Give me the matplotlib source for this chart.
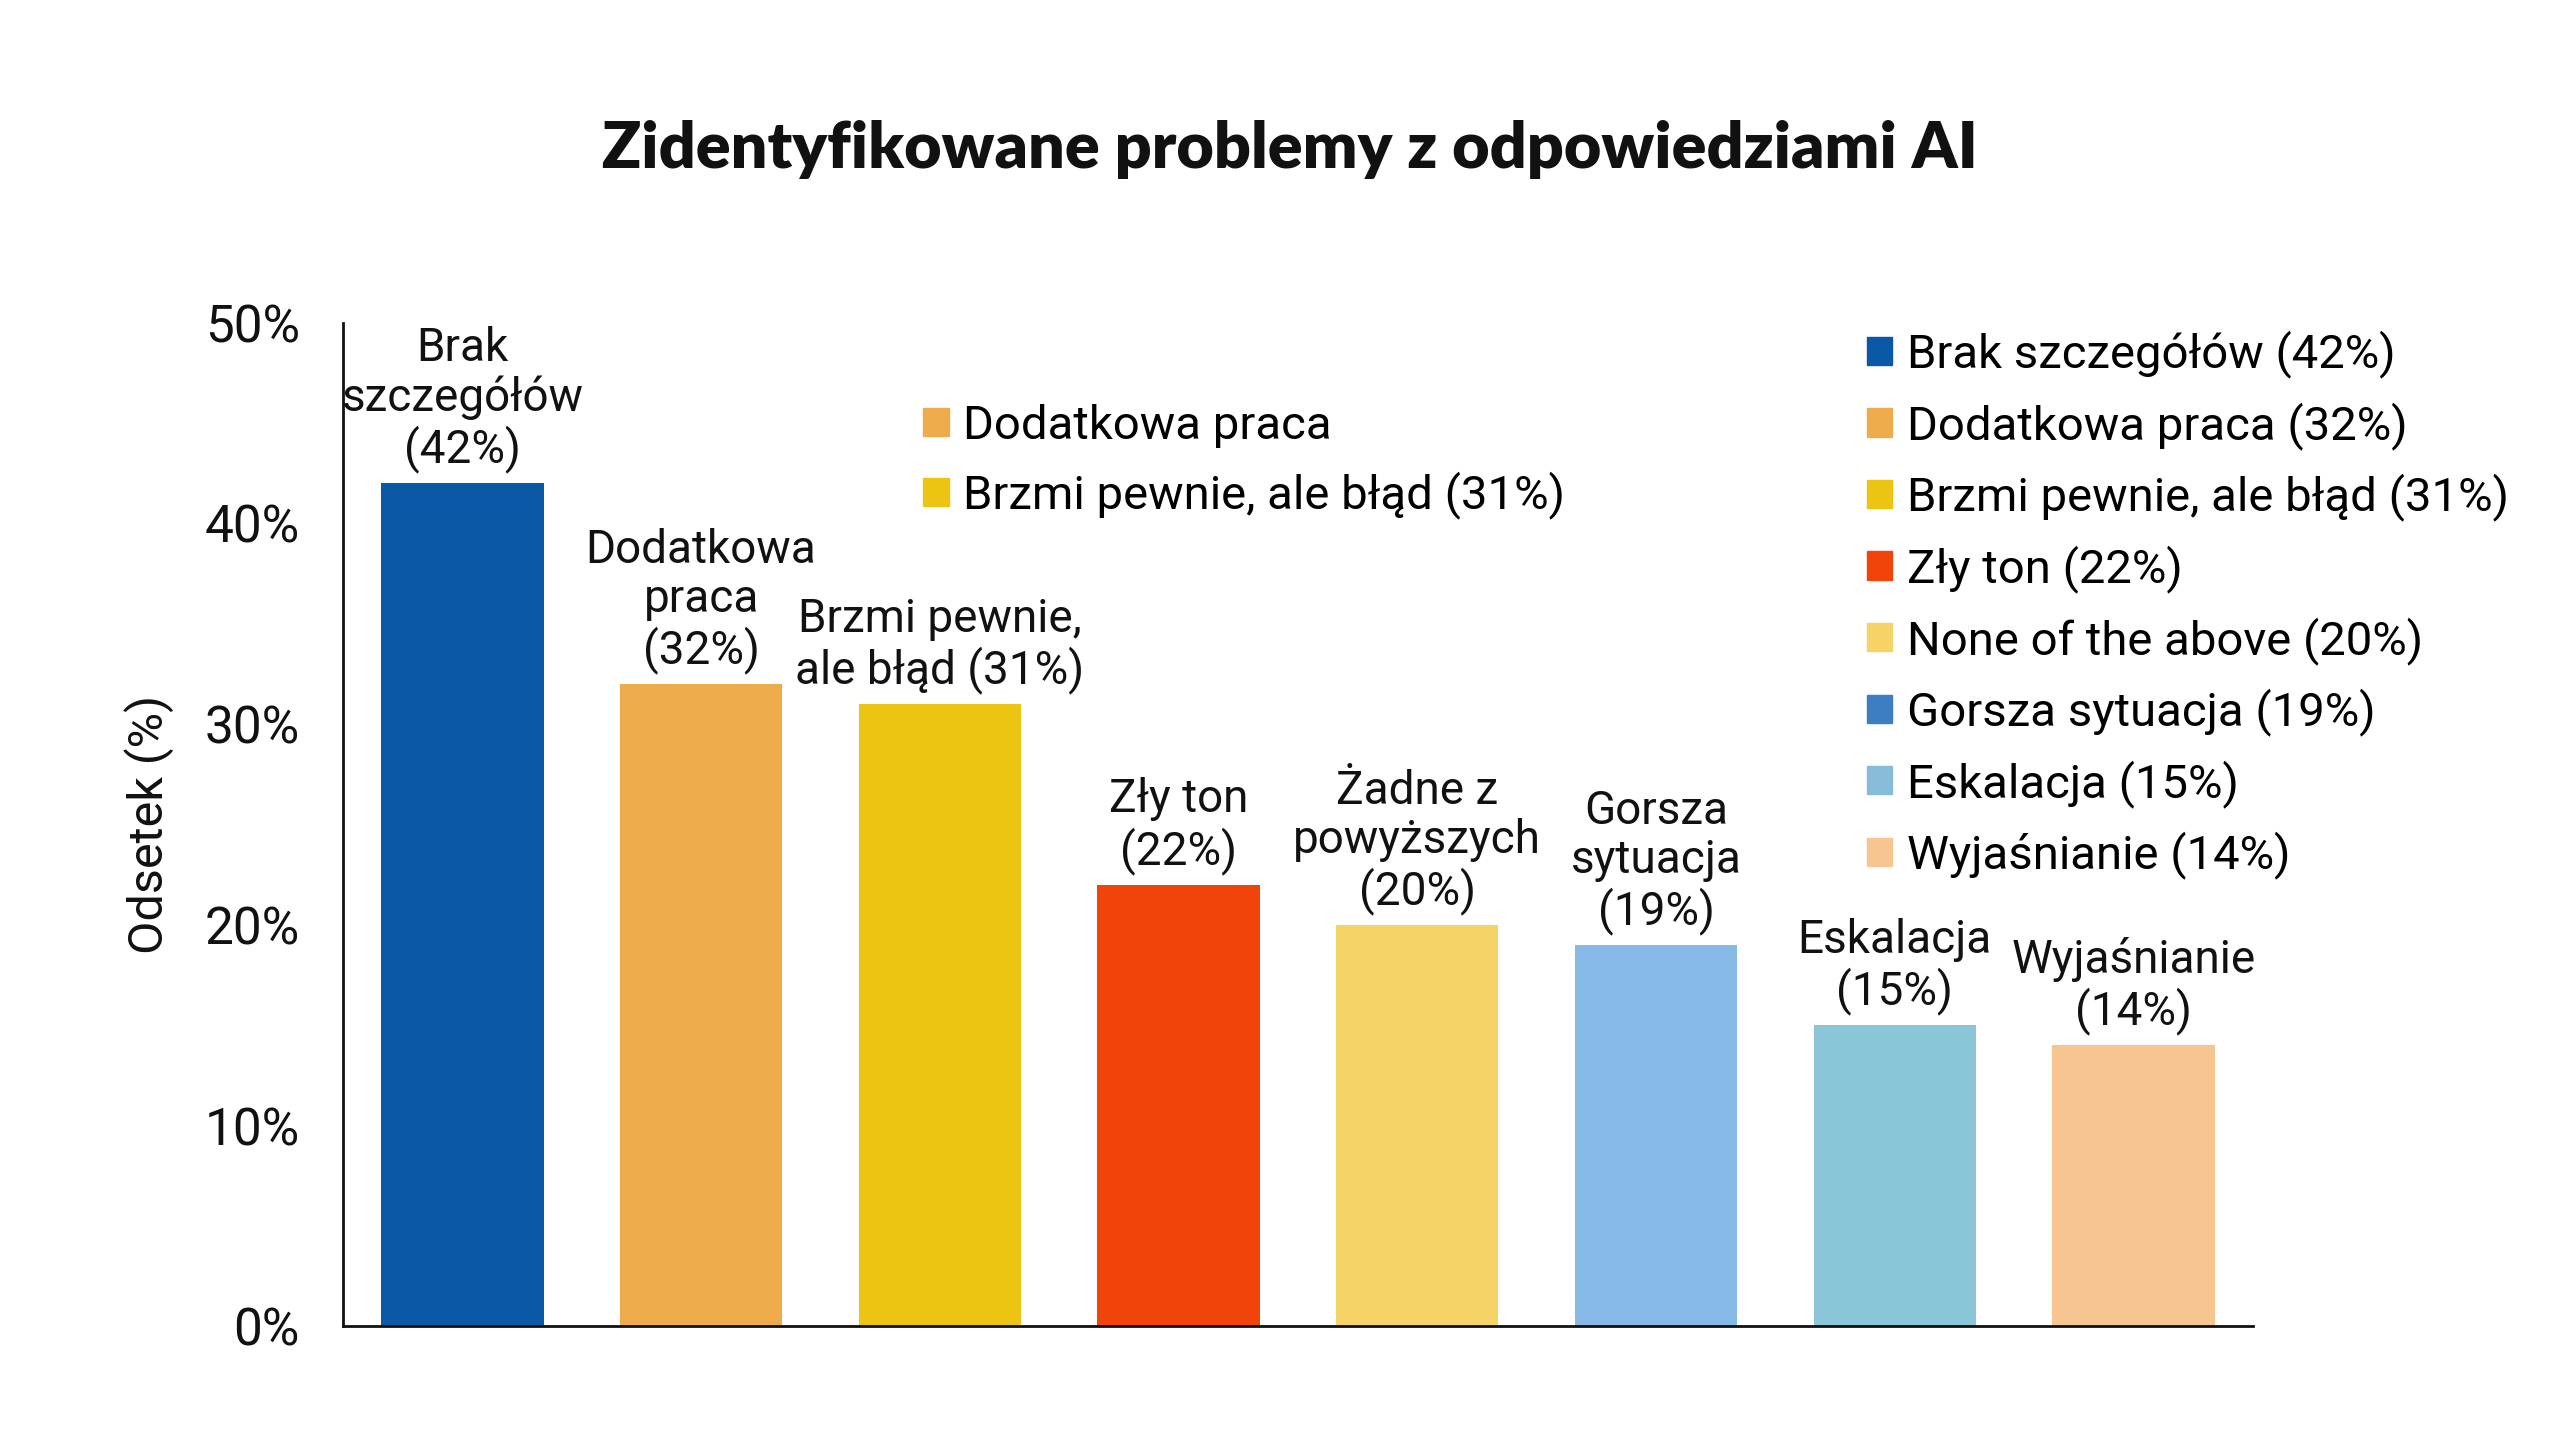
import matplotlib.pyplot as plt
from matplotlib.patches import Patch

categories = ["Brak\nszczegółów\n(42%)", "Dodatkowa\npraca\n(32%)", "Brzmi pewnie,\nale błąd (31%)",
              "Zły ton\n(22%)", "Żadne z\npowyższych\n(20%)", "Gorsza\nsytuacja\n(19%)",
              "Eskalacja\n(15%)", "Wyjaśnianie\n(14%)"]
values = [42, 32, 31, 22, 20, 19, 15, 14]
bar_colors = ["#0A58A6", "#EDAB4C", "#EEC413", "#F1440B", "#F6D366", "#86B9E6", "#8BC5D8", "#F7C590"]

legend_labels = ["Brak szczegółów (42%)", "Dodatkowa praca (32%)", "Brzmi pewnie, ale błąd (31%)",
                 "Zły ton (22%)", "None of the above (20%)", "Gorsza sytuacja (19%)",
                 "Eskalacja (15%)", "Wyjaśnianie (14%)"]
legend_colors = ["#0A58A6", "#EDAB4C", "#EEC413", "#F1440B", "#F6D366", "#3C7DC4", "#86BCD8", "#F7C590"]

mid_labels = ["Dodatkowa praca", "Brzmi pewnie, ale błąd (31%)"]
mid_colors = ["#EDAB4C", "#EEC413"]

yticks = [0, 10, 20, 30, 40, 50]

plt.rcParams['font.family'] = ["Roboto", "DejaVu Sans"]

fig = plt.figure(figsize=(25.6, 14.4), dpi=100)
ax = fig.add_axes([0.134, 0.079, 0.746, 0.697])

x = list(range(len(values)))
ax.bar(x, values, width=0.68, color=bar_colors)

for xi, v, lab in zip(x, values, categories):
    ax.text(xi, v + 0.5, lab, ha='center', va='bottom', fontsize=33, linespacing=1.14, color='#111111')

ax.set_xlim(-0.5, 7.5)
ax.set_ylim(0, 50)
ax.set_xticks([])
ax.set_yticks(yticks)
ax.set_yticklabels([f"{t}%" for t in yticks], fontsize=37, color='#111111')
ax.tick_params(axis='y', length=0, pad=31)
ax.set_ylabel("Odsetek (%)", fontsize=35, labelpad=22, color='#111111')

for s in ['top', 'right']:
    ax.spines[s].set_visible(False)
for s in ['left', 'bottom']:
    ax.spines[s].set_linewidth(2)
    ax.spines[s].set_color('#111111')

handles = [Patch(color=c, label=l) for c, l in zip(legend_colors, legend_labels)]
fig.legend(handles=handles, loc='upper left', bbox_to_anchor=(0.7125, 0.8), frameon=False,
           fontsize=34, handlelength=0.55, handleheight=0.55, handletextpad=0.3, labelspacing=0.5)

mid_handles = [Patch(color=c, label=l) for c, l in zip(mid_colors, mid_labels)]
fig.legend(handles=mid_handles, loc='upper left', bbox_to_anchor=(0.344, 0.749), frameon=False,
           fontsize=34, handlelength=0.55, handleheight=0.55, handletextpad=0.3, labelspacing=0.5)

fig.text(0.504, 0.896, "Zidentyfikowane problemy z odpowiedziami AI", ha='center', va='center',
         fontsize=46.5, fontweight='heavy', family=['Lato', 'DejaVu Sans'], color='#111111')

fig.savefig("out.png", dpi=100, facecolor='white')
